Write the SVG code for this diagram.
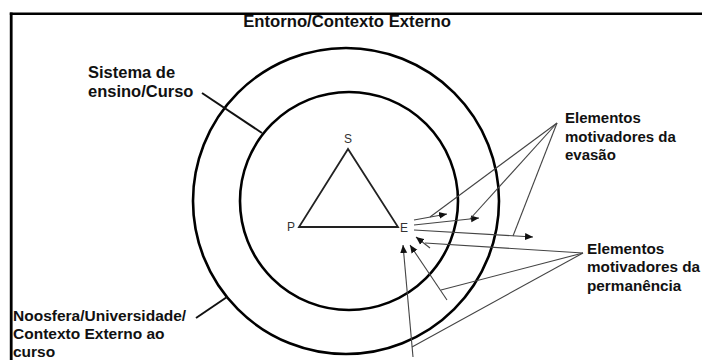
<svg xmlns="http://www.w3.org/2000/svg" width="702" height="360" viewBox="0 0 702 360">
<style>
.lbl{font-family:"Liberation Sans",Arial,sans-serif;font-weight:bold;font-size:15px;fill:#111}
.big{font-size:16.5px}
.mid{font-size:15.5px}
.ttl{font-family:"Liberation Sans",Arial,sans-serif;font-weight:bold;font-size:16.7px;fill:#111}
.vtx{font-family:"Liberation Sans",Arial,sans-serif;font-size:12px;fill:#333}
.ring{fill:none;stroke:#000;stroke-width:2.6}
.tri{fill:none;stroke:#222;stroke-width:1.8}
.lead{stroke:#111;stroke-width:2;fill:none}
.thin{stroke:#444;stroke-width:1.1;fill:none}
.arr{stroke:#444;stroke-width:1.1;fill:none;marker-end:url(#ah)}
</style>
<defs>
<marker id="ah" markerUnits="userSpaceOnUse" markerWidth="10" markerHeight="8" refX="8" refY="4" orient="auto">
<path d="M0,0.5 L8,4 L0,7.5 Z" fill="#111"/>
</marker>
</defs>
<rect width="702" height="360" fill="#fff"/>
<g id="frame">
<line x1="9.8" y1="13.8" x2="702" y2="13.8" stroke="#000" stroke-width="2.6"/>
<line x1="11.2" y1="12.5" x2="11.2" y2="360" stroke="#000" stroke-width="2.8"/>
</g>
<g id="title"><text class="ttl" x="347" y="27" text-anchor="middle">Entorno/Contexto Externo</text></g>
<g id="outer-ring"><circle class="ring" cx="346" cy="201" r="153"/></g>
<g id="inner-ring"><circle class="ring" cx="349" cy="201" r="109"/></g>
<g id="triangle">
<polygon class="tri" points="348,149 299,227 398,227"/>
<text class="vtx" x="348" y="143" text-anchor="middle">S</text>
<text class="vtx" x="291" y="231" text-anchor="middle">P</text>
<text class="vtx" x="404" y="231.5" text-anchor="middle">E</text>
</g>
<g id="label-sistema">
<text class="lbl big" x="88" y="77.5">Sistema de</text>
<text class="lbl big" x="88" y="96.5">ensino/Curso</text>
</g>
<g id="label-noosfera">
<text class="lbl mid" x="13" y="320.5">Noosfera/Universidade/</text>
<text class="lbl mid" x="13" y="338.5">Contexto Externo ao</text>
<text class="lbl mid" x="13" y="356.5">curso</text>
</g>
<g id="label-evasao">
<text class="lbl" x="565" y="123">Elementos</text>
<text class="lbl" x="565" y="141.5">motivadores da</text>
<text class="lbl" x="565" y="160">evasão</text>
</g>
<g id="label-permanencia">
<text class="lbl" x="587" y="253.5" style="font-size:15.3px">Elementos</text>
<text class="lbl" x="587" y="272" style="font-size:15.3px">motivadores da</text>
<text class="lbl" x="587" y="290.5" style="font-size:15.3px">permanência</text>
</g>
<g id="connectors">
<line class="lead" x1="202" y1="93" x2="262" y2="133"/>
<line class="lead" x1="196" y1="318" x2="227" y2="297"/>
<line class="arr" x1="414" y1="220" x2="447" y2="214"/>
<line class="arr" x1="414" y1="225" x2="479" y2="218"/>
<line class="arr" x1="414" y1="230" x2="533" y2="237"/>
<line class="thin" x1="557" y1="123" x2="430" y2="217"/>
<line class="thin" x1="557" y1="123" x2="470" y2="219"/>
<line class="thin" x1="557" y1="123" x2="513" y2="236"/>
<line class="arr" x1="430" y1="248" x2="416" y2="237"/>
<line class="arr" x1="447" y1="300" x2="410" y2="245"/>
<line class="arr" x1="413" y1="357" x2="403" y2="245"/>
<line class="thin" x1="583" y1="253" x2="425" y2="243"/>
<line class="thin" x1="583" y1="253" x2="441" y2="290"/>
<line class="thin" x1="583" y1="253" x2="412" y2="347"/>
</g>
</svg>
